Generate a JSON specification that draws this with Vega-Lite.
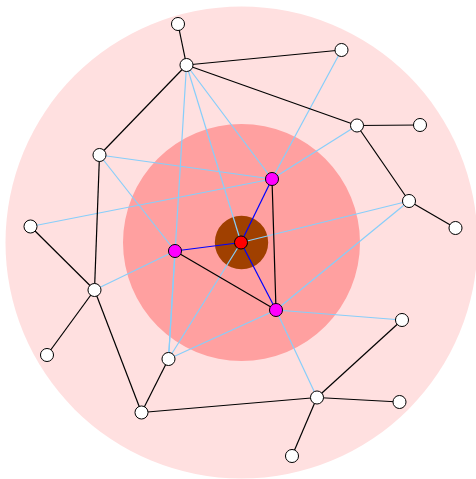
{
  "$schema": "https://vega.github.io/schema/vega-lite/v6.json",
  "width": 476,
  "height": 479,
  "padding": 0,
  "autosize": {"type": "none"},
  "background": "white",
  "config": {"view": {"stroke": null}},
  "datasets": {
    "rings": [{"x": 241.5, "y": 242.5}],
    "nodes": [
      {"id": "C", "x": 241, "y": 242.5, "group": "center"},
      {"id": "M1", "x": 272, "y": 179, "group": "hub"},
      {"id": "M2", "x": 175, "y": 251, "group": "hub"},
      {"id": "M3", "x": 276, "y": 310, "group": "hub"},
      {"id": "A", "x": 178, "y": 24, "group": "leaf"},
      {"id": "B", "x": 186.5, "y": 65, "group": "leaf"},
      {"id": "D", "x": 99.5, "y": 155, "group": "leaf"},
      {"id": "E", "x": 30.5, "y": 226.5, "group": "leaf"},
      {"id": "F", "x": 341.5, "y": 50, "group": "leaf"},
      {"id": "G", "x": 357, "y": 125.5, "group": "leaf"},
      {"id": "H", "x": 420, "y": 125, "group": "leaf"},
      {"id": "I", "x": 409, "y": 201, "group": "leaf"},
      {"id": "J", "x": 455.5, "y": 228, "group": "leaf"},
      {"id": "K", "x": 94.5, "y": 290, "group": "leaf"},
      {"id": "L", "x": 47, "y": 355, "group": "leaf"},
      {"id": "N", "x": 168.5, "y": 359, "group": "leaf"},
      {"id": "O", "x": 141.5, "y": 412.5, "group": "leaf"},
      {"id": "P", "x": 317, "y": 397.5, "group": "leaf"},
      {"id": "Q", "x": 402, "y": 320, "group": "leaf"},
      {"id": "R", "x": 399.5, "y": 402, "group": "leaf"},
      {"id": "S", "x": 292, "y": 456, "group": "leaf"}
    ],
    "edges": [
      {"s": "B", "t": "M1", "kind": "light"},
      {"s": "B", "t": "C", "kind": "light"},
      {"s": "B", "t": "N", "kind": "light"},
      {"s": "F", "t": "M1", "kind": "light"},
      {"s": "G", "t": "M1", "kind": "light"},
      {"s": "D", "t": "M1", "kind": "light"},
      {"s": "E", "t": "M1", "kind": "light"},
      {"s": "D", "t": "M2", "kind": "light"},
      {"s": "K", "t": "M2", "kind": "light"},
      {"s": "N", "t": "M2", "kind": "light"},
      {"s": "N", "t": "C", "kind": "light"},
      {"s": "N", "t": "M3", "kind": "light"},
      {"s": "I", "t": "C", "kind": "light"},
      {"s": "I", "t": "M3", "kind": "light"},
      {"s": "Q", "t": "M3", "kind": "light"},
      {"s": "P", "t": "M3", "kind": "light"},
      {"s": "A", "t": "B", "kind": "black"},
      {"s": "B", "t": "F", "kind": "black"},
      {"s": "B", "t": "G", "kind": "black"},
      {"s": "B", "t": "D", "kind": "black"},
      {"s": "G", "t": "H", "kind": "black"},
      {"s": "G", "t": "I", "kind": "black"},
      {"s": "I", "t": "J", "kind": "black"},
      {"s": "D", "t": "K", "kind": "black"},
      {"s": "E", "t": "K", "kind": "black"},
      {"s": "K", "t": "L", "kind": "black"},
      {"s": "K", "t": "O", "kind": "black"},
      {"s": "N", "t": "O", "kind": "black"},
      {"s": "O", "t": "P", "kind": "black"},
      {"s": "P", "t": "Q", "kind": "black"},
      {"s": "P", "t": "R", "kind": "black"},
      {"s": "P", "t": "S", "kind": "black"},
      {"s": "M1", "t": "M3", "kind": "black"},
      {"s": "M2", "t": "M3", "kind": "black"},
      {"s": "C", "t": "M1", "kind": "blue"},
      {"s": "C", "t": "M2", "kind": "blue"},
      {"s": "C", "t": "M3", "kind": "blue"}
    ]
  },
  "layer": [
    {
      "data": {"name": "rings"},
      "mark": {"type": "point", "shape": "circle", "filled": true, "opacity": 1, "strokeWidth": 0, "size": 222784, "color": "#ffe0e0"},
      "encoding": {
        "x": {"field": "x", "type": "quantitative", "scale": {"domain": [0, 476], "nice": false, "zero": false}, "axis": null},
        "y": {"field": "y", "type": "quantitative", "scale": {"domain": [0, 479], "nice": false, "zero": false, "reverse": true}, "axis": null}
      }
    },
    {
      "data": {"name": "rings"},
      "mark": {"type": "point", "shape": "circle", "filled": true, "opacity": 1, "strokeWidth": 0, "size": 56169, "color": "#ffa0a0"},
      "encoding": {
        "x": {"field": "x", "type": "quantitative", "scale": {"domain": [0, 476], "nice": false, "zero": false}, "axis": null},
        "y": {"field": "y", "type": "quantitative", "scale": {"domain": [0, 479], "nice": false, "zero": false, "reverse": true}, "axis": null}
      }
    },
    {
      "data": {"name": "rings"},
      "mark": {"type": "point", "shape": "circle", "filled": true, "opacity": 1, "strokeWidth": 0, "size": 2852, "color": "#a04000"},
      "encoding": {
        "x": {"field": "x", "type": "quantitative", "scale": {"domain": [0, 476], "nice": false, "zero": false}, "axis": null},
        "y": {"field": "y", "type": "quantitative", "scale": {"domain": [0, 479], "nice": false, "zero": false, "reverse": true}, "axis": null}
      }
    },
    {
      "data": {"name": "edges"},
      "transform": [
        {"lookup": "s", "from": {"data": {"name": "nodes"}, "key": "id", "fields": ["x", "y"]}, "as": ["sx", "sy"]},
        {"lookup": "t", "from": {"data": {"name": "nodes"}, "key": "id", "fields": ["x", "y"]}, "as": ["tx", "ty"]}
      ],
      "mark": {"type": "rule", "strokeWidth": 1.2},
      "encoding": {
        "x": {"field": "sx", "type": "quantitative", "scale": {"domain": [0, 476], "nice": false, "zero": false}, "axis": null},
        "y": {"field": "sy", "type": "quantitative", "scale": {"domain": [0, 479], "nice": false, "zero": false, "reverse": true}, "axis": null},
        "x2": {"field": "tx"},
        "y2": {"field": "ty"},
        "color": {"field": "kind", "type": "nominal", "scale": {"domain": ["light", "black", "blue"], "range": ["#87cefa", "#000000", "#0000ff"]}, "legend": null}
      }
    },
    {
      "data": {"name": "nodes"},
      "mark": {"type": "point", "shape": "circle", "filled": true, "opacity": 1, "stroke": "#000000", "strokeWidth": 1, "size": 170},
      "encoding": {
        "x": {"field": "x", "type": "quantitative", "scale": {"domain": [0, 476], "nice": false, "zero": false}, "axis": null},
        "y": {"field": "y", "type": "quantitative", "scale": {"domain": [0, 479], "nice": false, "zero": false, "reverse": true}, "axis": null},
        "fill": {"field": "group", "type": "nominal", "scale": {"domain": ["center", "hub", "leaf"], "range": ["#ff0000", "#ff00ff", "#ffffff"]}, "legend": null}
      }
    }
  ]
}
